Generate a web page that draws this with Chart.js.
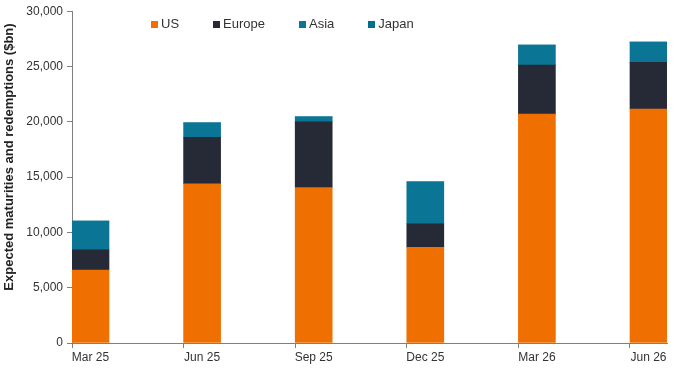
<!DOCTYPE html>
<html>
<head>
<meta charset="utf-8">
<script src="https://cdn.jsdelivr.net/npm/chart.js@4"></script>
<style>
  html, body { margin: 0; padding: 0; background: #fff; }
  #wrap { position: relative; width: 680px; height: 374px; }
  #legend {
    position: absolute; top: 16px; left: 151px;
    display: flex; font: 13px "Liberation Sans", Arial, sans-serif; color: #333;
    line-height: 16px;
  }
  #legend .item { display: flex; align-items: center; margin-right: 34px; }
  #legend .sw { width: 7px; height: 7px; margin-right: 3px; }
  #ytitle {
    position: absolute; left: -131px; top: 149px; width: 280px; height: 16px;
    line-height: 16px; text-align: center; transform: rotate(-90deg);
    font: bold 13px "Liberation Sans", Arial, sans-serif; color: #222; white-space: nowrap;
  }
</style>
</head>
<body>
<div id="wrap">
  <canvas id="chart" width="680" height="374"></canvas>
  <div id="legend"></div>
  <div id="ytitle">Expected maturities and redemptions ($bn)</div>
</div>
<script>
// Data ($bn)
const periods = ["Mar 25", "Jun 25", "Sep 25", "Dec 25", "Mar 26", "Jun 26"];
const us = [6600, 14400, 14050, 8650, 20700, 21150];
const europe = [1830, 4200, 5950, 2130, 4430, 4230];
const asia = [2600, 1300, 450, 3800, 1810, 1820];
const japan = [0, 0, 0, 0, 0, 0];
const yTicks = [0, 5000, 10000, 15000, 20000, 25000, 30000];

const seriesNames = ["US", "Europe", "Asia", "Japan"];
const seriesData = [us, europe, asia, japan];
const seriesColors = ["#ef7000", "#262a36", "#0b7596", "#006f8e"];

const halfBar = 0.1658; // half bar width in x units (bars sit just right of each tick)

const ctx = document.getElementById("chart").getContext("2d");
const chart = new Chart(ctx, {
  type: "bar",
  data: {
    datasets: seriesNames.map((name, s) => ({
      label: name,
      data: seriesData[s].map((v, i) => ({ x: i, y: v })),
      backgroundColor: seriesColors[s],
      borderWidth: 0,
      barThickness: 37,
    })),
  },
  options: {
    responsive: false,
    animation: false,
    layout: { padding: { top: 11, right: 13, left: 0, bottom: 0 } },
    plugins: {
      legend: { display: false },
      tooltip: { enabled: false },
    },
    scales: {
      x: {
        type: "linear",
        stacked: true,
        offset: false,
        min: -halfBar,
        max: periods.length - 1 + halfBar,
        afterBuildTicks: (scale) => {
          scale.ticks = periods.map((p, i) => ({ value: i - halfBar }));
        },
        afterFit: (scale) => { scale.height = 31; },
        ticks: {
          autoSkip: false,
          maxRotation: 0,
          labelOffset: 18.5,
          padding: 2,
          color: "#333",
          font: { family: "'Liberation Sans', Arial", size: 12 },
          callback: (v, i) => periods[i],
        },
        grid: { offset: false, drawOnChartArea: false, tickLength: 5, color: "#7f7f7f" },
        border: { color: "#7f7f7f" },
      },
      y: {
        stacked: true,
        min: 0,
        max: 30000,
        afterBuildTicks: (scale) => {
          scale.ticks = yTicks.map((v) => ({ value: v }));
        },
        afterFit: (scale) => { scale.width = 72; },
        ticks: {
          padding: 4,
          color: "#333",
          font: { family: "'Liberation Sans', Arial", size: 12 },
          callback: (v) => v.toLocaleString("en-US"),
        },
        grid: { drawOnChartArea: false, tickLength: 5, color: "#7f7f7f" },
        border: { color: "#7f7f7f" },
      },
    },
  },
});

// Legend drawn as html over the top of the plot
const legendEl = document.getElementById("legend");
seriesNames.forEach((name, s) => {
  const item = document.createElement("div");
  item.className = "item";
  item.innerHTML = `<span class="sw" style="background:${seriesColors[s]}"></span><span>${name}</span>`;
  legendEl.appendChild(item);
});
</script>
</body>
</html>
